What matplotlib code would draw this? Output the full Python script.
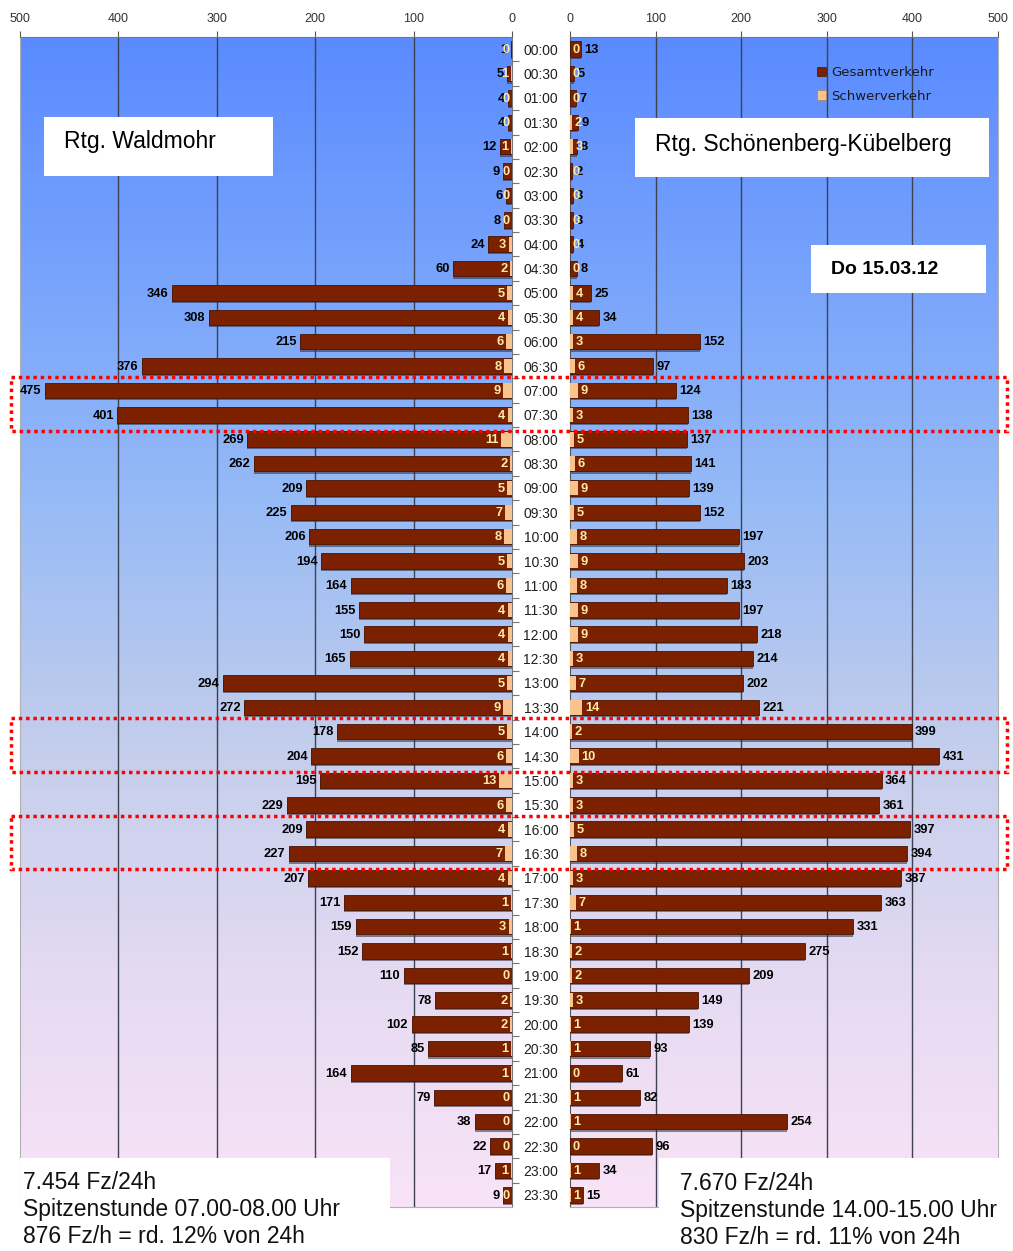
import numpy as np
import matplotlib.pyplot as plt
from matplotlib.colors import LinearSegmentedColormap
from matplotlib.patches import Rectangle, Patch
from matplotlib.transforms import blended_transform_factory

plt.rcParams["font.family"] = ["Liberation Sans", "DejaVu Sans"]

times = ["00:00", "00:30", "01:00", "01:30", "02:00", "02:30", "03:00", "03:30",
         "04:00", "04:30", "05:00", "05:30", "06:00", "06:30", "07:00", "07:30",
         "08:00", "08:30", "09:00", "09:30", "10:00", "10:30", "11:00", "11:30",
         "12:00", "12:30", "13:00", "13:30", "14:00", "14:30", "15:00", "15:30",
         "16:00", "16:30", "17:00", "17:30", "18:00", "18:30", "19:00", "19:30",
         "20:00", "20:30", "21:00", "21:30", "22:00", "22:30", "23:00", "23:30"]

# Rtg. Waldmohr
waldmohr_total = [1, 5, 4, 4, 12, 9, 6, 8, 24, 60,
                  346, 308, 215, 376, 475, 401, 269, 262, 209, 225,
                  206, 194, 164, 155, 150, 165, 294, 272, 178, 204,
                  195, 229, 209, 227, 207, 171, 159, 152, 110, 78,
                  102, 85, 164, 79, 38, 22, 17, 9]
waldmohr_heavy = [0, 1, 0, 0, 1, 0, 0, 0, 3, 2,
                  5, 4, 6, 8, 9, 4, 11, 2, 5, 7,
                  8, 5, 6, 4, 4, 4, 5, 9, 5, 6,
                  13, 6, 4, 7, 4, 1, 3, 1, 0, 2,
                  2, 1, 1, 0, 0, 0, 1, 0]

# Rtg. Schönenberg-Kübelberg
schoen_total = [13, 5, 7, 9, 8, 2, 3, 3, 4, 8,
                25, 34, 152, 97, 124, 138, 137, 141, 139, 152,
                197, 203, 183, 197, 218, 214, 202, 221, 399, 431,
                364, 361, 397, 394, 387, 363, 331, 275, 209, 149,
                139, 93, 61, 82, 254, 96, 34, 15]
schoen_heavy = [0, 0, 0, 2, 3, 0, 0, 0, 0, 0,
                4, 4, 3, 6, 9, 3, 5, 6, 9, 5,
                8, 9, 8, 9, 9, 3, 7, 14, 2, 10,
                3, 3, 5, 8, 3, 7, 1, 2, 2, 3,
                1, 1, 0, 1, 1, 0, 1, 1]

peak_starts = ["07:00", "14:00", "16:00"]
ticks = [0, 100, 200, 300, 400, 500]

W, H = 1013, 1251
fig = plt.figure(figsize=(W / 100, H / 100), dpi=100)


def fx(px):
    return px / W


def fy(py):
    return 1 - py / H


ax_l = fig.add_axes([fx(20), fy(1207), fx(492), 1170 / H])
ax_r = fig.add_axes([fx(570), fy(1207), fx(428), 1170 / H])

bg = LinearSegmentedColormap.from_list(
    "bg", ["#5a8bff", "#77a3fc", "#97bbf6", "#c2cdec", "#e4daf2", "#f9e3f7"])
dark_red = "#7b2100"
peach = "#f9c38e"
y = np.arange(len(times))
n = len(times)


def panel(ax, total, heavy, sign):
    ax.imshow(np.linspace(0, 1, 256).reshape(-1, 1), cmap=bg, aspect="auto",
              extent=[0, 500, n - 0.5, -0.5], zorder=0)
    for t in ticks[1:-1]:
        ax.axvline(t, color="#3c4252", lw=1, zorder=1)
    ax.barh(y + 0.09, total, height=0.64, color="#2b2b3b", alpha=0.55, zorder=2)
    ax.barh(y, total, height=0.64, color=dark_red, edgecolor="#4a1400",
            linewidth=0.6, zorder=3)
    ax.barh(y, heavy, height=0.6, color=peach, linewidth=0, zorder=4)
    ha = "left" if sign > 0 else "right"
    for i in range(n):
        ax.annotate(str(total[i]), (total[i], y[i]), xytext=(sign * 2.5, -0.5),
                    textcoords="offset points", ha=ha, va="center",
                    fontsize=9.3, fontweight="bold", color="black", zorder=5)
        ax.annotate(str(heavy[i]), (heavy[i], y[i]), xytext=(sign * 2, -0.5),
                    textcoords="offset points", ha=ha, va="center",
                    fontsize=9.3, fontweight="bold", color="#ffeaa8", zorder=6)
    ax.set_ylim(n - 0.5, -0.5)
    ax.set_xticks(ticks)
    ax.xaxis.tick_top()
    ax.tick_params(axis="x", direction="out", length=4, color="#555555",
                   labelsize=9, labelcolor="#333333", pad=5)


panel(ax_l, waldmohr_total, waldmohr_heavy, -1)
panel(ax_r, schoen_total, schoen_heavy, 1)
ax_l.set_xlim(500, 0)
ax_r.set_xlim(0, 500)

ax_l.yaxis.tick_right()
ax_l.set_yticks(y[:-1] + 0.5)
ax_l.set_yticklabels([])
ax_l.tick_params(axis="y", direction="out", length=5, color="#777777")

ax_r.set_yticks(y, times)
ax_r.tick_params(axis="y", length=0, pad=21, labelsize=10, labelcolor="#202020")
for lab in ax_r.get_yticklabels():
    lab.set_ha("center")

for sp, c in zip(["top", "left", "right", "bottom"], ["#777777", "#b0b0b0", "#777777", "#b0b0b0"]):
    ax_l.spines[sp].set_color(c)
for sp, c in zip(["top", "left", "right", "bottom"], ["#777777", "#555555", "#b0b0b0", "#b0b0b0"]):
    ax_r.spines[sp].set_color(c)


def box(x0, y0, x1, y1):
    fig.add_artist(Rectangle((fx(x0), fy(y1)), fx(x1 - x0), (y1 - y0) / H,
                             transform=fig.transFigure, facecolor="white",
                             edgecolor="none", zorder=4))


box(44, 117, 273, 176)
fig.text(fx(64), fy(148), "Rtg. Waldmohr", fontsize=16.5, va="baseline", zorder=5)
box(635, 118, 989, 177)
fig.text(fx(655), fy(151), "Rtg. Schönenberg-Kübelberg", fontsize=16.5, va="baseline", zorder=5)
box(811, 245, 986, 293)
fig.text(fx(831), fy(274), "Do 15.03.12", fontsize=14, fontweight="bold", va="baseline", zorder=5)

box(20, 1158, 390, 1251)
for k, line in enumerate(["7.454 Fz/24h", "Spitzenstunde 07.00-08.00 Uhr", "876 Fz/h = rd. 12% von 24h"]):
    fig.text(fx(23), fy(1189 + 27 * k), line, fontsize=16.5, va="baseline", color="#111111", zorder=5)
box(659, 1158, 1000, 1251)
for k, line in enumerate(["7.670 Fz/24h", "Spitzenstunde 14.00-15.00 Uhr", "830 Fz/h = rd. 11% von 24h"]):
    fig.text(fx(680), fy(1190 + 27 * k), line, fontsize=16.5, va="baseline", color="#111111", zorder=5)

fig.legend(handles=[Patch(facecolor=dark_red, edgecolor="#4a1400", lw=0.5),
                    Patch(facecolor=peach, edgecolor="#b08050", lw=0.5)],
           labels=["Gesamtverkehr", "Schwerverkehr"], loc="upper left",
           bbox_to_anchor=(fx(817), fy(66)), frameon=False,
           prop={"family": "DejaVu Sans", "size": 9.5}, labelcolor="#1a1a1a",
           handlelength=0.7, handleheight=0.7, handletextpad=0.4,
           labelspacing=0.8, borderpad=0, borderaxespad=0)

trans = blended_transform_factory(fig.transFigure, ax_l.transData)
for t in peak_starts:
    i = times.index(t)
    fig.add_artist(Rectangle((fx(11), i - 0.55), fx(1007 - 11), 2.2, transform=trans,
                             fill=False, edgecolor="#ff0000", lw=2.5,
                             linestyle=(0, (1, 1.1)), zorder=7, clip_on=False))

fig.savefig("out.png", dpi=100, facecolor="white")
